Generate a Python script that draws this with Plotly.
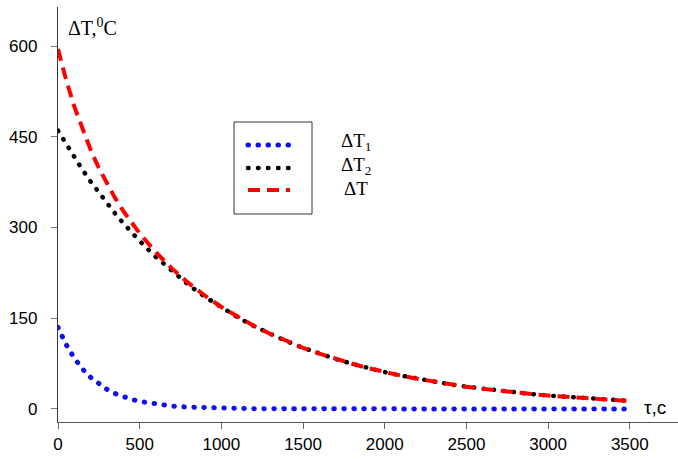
import plotly.graph_objects as go

# time, s
tau = [0, 50, 100, 150, 200, 250, 300, 350, 400, 450, 500, 600, 700, 800, 900, 1000,
       1100, 1200, 1300, 1400, 1500, 1600, 1700, 1800, 1900, 2000, 2100, 2200, 2300,
       2400, 2500, 2600, 2700, 2800, 2900, 3000, 3100, 3200, 3300, 3400, 3500]

dT1 = [135, 106.4, 83.9, 66.1, 52.1, 41.1, 32.4, 25.5, 20.1, 15.8, 12.5, 7.8, 4.8, 3.0, 1.9, 1.2,
       0.7, 0.4, 0.3, 0.2, 0.1, 0.1, 0, 0, 0, 0, 0, 0, 0,
       0, 0, 0, 0, 0, 0, 0, 0, 0, 0, 0, 0]

dT2 = [460, 437.4, 415.8, 395.3, 375.9, 357.3, 339.8, 323.0, 307.1, 292.0, 277.6, 250.9, 226.8, 205.0, 185.3, 167.5,
       151.4, 136.9, 123.7, 111.8, 101.1, 91.4, 82.6, 74.7, 67.5, 61.0, 55.2, 49.9, 45.1,
       40.7, 36.8, 33.3, 30.1, 27.2, 24.6, 22.2, 20.1, 18.2, 16.4, 14.8, 13.4]

dT = [595, 543.8, 499.7, 461.4, 428.0, 398.4, 372.2, 348.5, 327.2, 307.8, 290.1, 258.7, 231.6, 208.0, 187.2, 168.7,
      152.1, 137.3, 124.0, 112.0, 101.2, 91.5, 82.6, 74.7, 67.5, 61.0, 55.2, 49.9, 45.1,
      40.7, 36.8, 33.3, 30.1, 27.2, 24.6, 22.2, 20.1, 18.2, 16.4, 14.8, 13.4]

x_ticks = [0, 500, 1000, 1500, 2000, 2500, 3000, 3500]
y_ticks = [0, 150, 300, 450, 600]

legend_names = ["ΔT<sub>1</sub>", "ΔT<sub>2</sub>", "ΔT"]
colors = ["#1010ee", "#000000", "#ff0000"]
DOT = "0.5px,9.5px"
DASH = "12px,7px"

fig = go.Figure()
fig.add_trace(go.Scatter(x=tau, y=dT1, mode="lines",
                         line=dict(color=colors[0], width=5, dash=DOT), showlegend=False))
fig.add_trace(go.Scatter(x=tau, y=dT2, mode="lines",
                         line=dict(color=colors[1], width=4.5, dash=DOT), showlegend=False))
fig.add_trace(go.Scatter(x=tau, y=dT, mode="lines",
                         line=dict(color=colors[2], width=4, dash=DASH), showlegend=False))

W, H = 678, 459
L, R, T, B = 58, 0, 7, 37
pw, ph = W - L - R, H - T - B


def px(xp):
    return (xp - L) / pw


def py(yp):
    return (H - B - yp) / ph


# manual legend box
fig.add_shape(type="rect", xref="paper", yref="paper",
              x0=px(234), x1=px(312), y0=py(214), y1=py(122),
              line=dict(color="#333333", width=1))
for i, (yy, dash, w) in enumerate([(145, DOT, 5), (168, DOT, 4.5), (190, DASH, 4)]):
    fig.add_shape(type="line", xref="paper", yref="paper",
                  x0=px(248), x1=px(290), y0=py(yy), y1=py(yy),
                  line=dict(color=colors[i], width=w, dash=dash))
for i, (xx, yy) in enumerate([(339, 142), (339, 166), (342, 188)]):
    fig.add_annotation(xref="paper", yref="paper", x=px(xx), y=py(yy),
                       xanchor="left", yanchor="middle", showarrow=False,
                       text=legend_names[i],
                       font=dict(family="Liberation Serif", size=19, color="#000"))

# axis titles
fig.add_annotation(xref="paper", yref="paper", x=px(66), y=py(27),
                   xanchor="left", yanchor="middle", showarrow=False,
                   text="ΔT,<sup>0</sup>C",
                   font=dict(family="Liberation Serif", size=20, color="#000"))
fig.add_annotation(xref="paper", yref="paper", x=px(655), y=py(407),
                   xanchor="center", yanchor="middle", showarrow=False,
                   text="τ,c",
                   font=dict(family="Liberation Sans", size=19, color="#000"))

fig.update_layout(
    width=W, height=H,
    margin=dict(l=L, r=R, t=T, b=B),
    paper_bgcolor="white", plot_bgcolor="white",
    font=dict(family="Liberation Sans", size=17, color="#000"),
    xaxis=dict(range=[0, 3795], tickvals=x_ticks, ticktext=[str(v) for v in x_ticks],
               showgrid=False, zeroline=False, showline=True, linecolor="#555555",
               linewidth=1.3, ticks="outside", ticklen=6, tickcolor="#666666",
               tickwidth=1),
    yaxis=dict(range=[-21.5, 664.5], tickvals=y_ticks, ticktext=[str(v) for v in y_ticks],
               showgrid=False, zeroline=False, showline=True, linecolor="#333333",
               linewidth=1.3, ticks="outside", ticklen=6, tickcolor="#777777",
               tickwidth=1, ticklabelstandoff=10),
)

post = """
var gd = document.getElementsByClassName('plotly-graph-div')[0];
function roundDots(){
  document.querySelectorAll('path').forEach(function(p){
    var d = p.style.strokeDasharray || p.getAttribute('stroke-dasharray') || '';
    if (d.indexOf('0.5') === 0) { p.style.strokeLinecap = 'round'; }
  });
}
roundDots();
if (gd && gd.on) { gd.on('plotly_afterplot', roundDots); }
"""

fig.write_html("out.html", post_script=post)
